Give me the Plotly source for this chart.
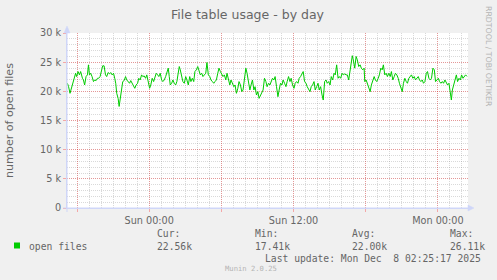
import plotly.graph_objects as go

# ---------------- data ----------------
sat_times = ["17:12", "17:18", "17:25", "17:32", "17:38", "17:45", "17:53", "17:58",
             "18:05", "18:12", "18:18", "18:27", "18:32", "18:38", "18:45", "18:52", "18:57",
             "19:02", "19:08", "19:15", "19:22", "19:28", "19:35", "19:42", "19:48", "19:55",
             "20:02", "20:08", "20:15", "20:22", "20:28", "20:35", "20:42", "20:48", "20:55",
             "21:02", "21:08", "21:13", "21:18", "21:25", "21:30", "21:35", "21:42", "21:48", "21:55",
             "22:02", "22:08", "22:15", "22:22", "22:28", "22:35", "22:42", "22:48", "22:55",
             "23:02", "23:08", "23:15", "23:22", "23:28", "23:35", "23:42", "23:48", "23:55"]
sat_values = [21380, 20800, 19660, 20520, 21090, 21670, 23100, 22530,
              23390, 22820, 23390, 22240, 21950, 21090, 22530, 22820, 24540,
              22820, 23100, 22530, 21670, 21950, 21840, 22240, 22240, 22530,
              23680, 24370, 24370, 22820, 22530, 23220, 22990, 23220, 22820,
              23100, 22240, 21380, 19660, 18790, 17410, 18510, 19940, 21670, 21840,
              22530, 21950, 21670, 21380, 21840, 21380, 21090, 20520, 21090,
              21380, 22240, 21950, 22820, 22530, 22640, 22240, 22820, 21380]

sun_times = ["00:02", "00:08", "00:15", "00:22", "00:28", "00:35", "00:42", "00:48", "00:55",
             "01:02", "01:08", "01:15", "01:22", "01:28", "01:35", "01:40", "01:45", "01:52", "01:58",
             "02:05", "02:12", "02:18", "02:25", "02:30", "02:35", "02:42", "02:48", "02:55",
             "03:02", "03:08", "03:15", "03:22", "03:28", "03:35", "03:42", "03:48", "03:55",
             "04:02", "04:08", "04:15", "04:22", "04:28", "04:35", "04:42", "04:48", "04:55",
             "05:02", "05:08", "05:15", "05:22", "05:28", "05:35", "05:42", "05:48", "05:55",
             "06:02", "06:08", "06:15", "06:22", "06:28", "06:35", "06:42", "06:48", "06:55",
             "07:02", "07:08", "07:15", "07:22", "07:28", "07:35", "07:42", "07:48", "07:55",
             "08:02", "08:08", "08:15", "08:22", "08:28", "08:35", "08:42", "08:48", "08:55",
             "09:02", "09:08", "09:15", "09:22", "09:28", "09:35", "09:42", "09:48", "09:55",
             "10:02", "10:08", "10:15", "10:22", "10:28", "10:35", "10:42", "10:48", "10:55",
             "11:02", "11:08", "11:15", "11:22", "11:28", "11:35", "11:42", "11:48", "11:55",
             "12:02", "12:08", "12:15", "12:22", "12:28", "12:35", "12:42", "12:48", "12:55",
             "13:02", "13:08", "13:15", "13:22", "13:28", "13:35", "13:42", "13:48", "13:55",
             "14:02", "14:08", "14:15", "14:22", "14:28", "14:35", "14:42", "14:48", "14:55",
             "15:02", "15:08", "15:15", "15:22", "15:28", "15:35", "15:42", "15:48", "15:55",
             "16:02", "16:08", "16:15", "16:22", "16:28", "16:35", "16:42", "16:48", "16:53", "16:58",
             "17:05", "17:12", "17:18", "17:25", "17:32", "17:38", "17:45", "17:52", "17:55",
             "18:02", "18:08", "18:15", "18:22", "18:28", "18:35", "18:42", "18:48", "18:55",
             "19:02", "19:08", "19:15", "19:22", "19:28", "19:35", "19:42", "19:48", "19:55",
             "20:02", "20:08", "20:15", "20:22", "20:28", "20:35", "20:42", "20:48", "20:55",
             "21:02", "21:08", "21:15", "21:22", "21:28", "21:35", "21:42", "21:48", "21:55",
             "22:02", "22:08", "22:15", "22:22", "22:28", "22:35", "22:42", "22:48", "22:55",
             "23:02", "23:08", "23:15", "23:22", "23:28", "23:35", "23:42", "23:48", "23:55"]
sun_values = [20520, 21090, 22240, 21670, 22530, 23100, 22820, 22530, 23100,
              21950, 21670, 21950, 22530, 23100, 23970, 22530, 21090, 21380, 21950,
              21380, 21090, 21670, 23100, 24250, 23680, 22240, 21670, 21380,
              22530, 21950, 21090, 22530, 21670, 22240, 21670, 23390, 23680,
              24250, 23390, 22820, 23100, 22530, 22820, 23100, 24940, 22820,
              22530, 21950, 21670, 21380, 21670, 21950, 23100, 23970, 23390,
              22820, 22530, 22820, 21950, 23100, 22240, 21090, 21950, 21380,
              20800, 21090, 19660, 20520, 21670, 21090, 19940, 20230, 22530,
              23970, 23100, 21380, 20230, 21090, 21950, 20230, 20800, 19370,
              19940, 18790, 19370, 19660, 20230, 22240, 21670, 20800, 21380,
              21090, 21670, 22240, 21950, 22530, 20800, 19080, 20230, 21380,
              21090, 21950, 21380, 20800, 21670, 22530, 21670, 22240, 21090,
              20520, 21380, 21670, 21380, 22240, 22530, 23100, 23390, 21670,
              21380, 20800, 20230, 19940, 20800, 21090, 21670, 20230, 20800,
              21380, 20230, 20800, 19370, 18510, 21670, 21950, 21380, 21670,
              21090, 22530, 21950, 23100, 22820, 24540, 22240, 22530, 22240,
              23100, 22820, 22990, 22820, 22820, 21950, 23680, 24830, 26110, 25400,
              23970, 25980, 25400, 24250, 24540, 23970, 23680, 23970, 21670,
              21950, 21380, 20800, 19940, 21090, 21950, 22530, 21950, 21670,
              22240, 22820, 23970, 23680, 24540, 22820, 23100, 22530, 23100,
              22530, 23390, 21950, 22530, 23100, 22820, 22240, 21380, 20800,
              19940, 21380, 22240, 21670, 21380, 22240, 22530, 22820, 22240,
              22530, 21950, 22240, 22530, 21950, 21670, 21950, 21380, 21670,
              23100, 23390, 22240, 21950, 22240, 23970, 23680, 21670, 21950]

mon_times = ["00:02", "00:08", "00:15", "00:22", "00:28", "00:35", "00:42", "00:48", "00:55",
             "01:02", "01:07", "01:12", "01:18", "01:25", "01:32", "01:38", "01:45", "01:52", "01:58",
             "02:05", "02:12", "02:18", "02:25"]
mon_values = [22240, 21670, 21380, 21670, 21380, 21950, 21380, 21090, 21380,
              19940, 18510, 20230, 21090, 21950, 22820, 21670, 22240, 21950, 22820,
              22240, 22530, 22820, 22560]

series_name = "open files"
title_text = "File table usage - by day"
y_title = "number of open files"

x_range = ["2025-12-06 17:10", "2025-12-08 02:30"]
x_tickvals = ["2025-12-06 18:00", "2025-12-07 00:00", "2025-12-07 06:00",
              "2025-12-07 12:00", "2025-12-07 18:00", "2025-12-08 00:00"]
x_ticktext = ["", "Sun 00:00", "", "Sun 12:00", "", "Mon 00:00"]

y_tickvals = [0, 5000, 10000, 15000, 20000, 25000, 30000]
y_ticktext = ["0", "5 k", "10 k", "15 k", "20 k", "25 k", "30 k"]

stat_labels = ["Cur:", "Min:", "Avg:", "Max:"]
stat_values = ["22.56k", "17.41k", "22.00k", "26.11k"]
last_update = "Last update: Mon Dec \u00a08 02:25:17 2025"
watermark = "Munin 2.0.25"
side_text = "RRDTOOL / TOBI OETIKER"

times = (["2025-12-06 " + t for t in sat_times]
         + ["2025-12-07 " + t for t in sun_times]
         + ["2025-12-08 " + t for t in mon_times])
open_files = sat_values + sun_values + mon_values

# ---------------- layout helpers ----------------
W, H = 497, 280
L, R, T, B = 67, 29, 33, 72
PW, PH = W - L - R, H - T - B


def px(x):
    return (x - L) / PW


def py(y):
    return (H - B - y) / PH


GREEN = "#00CC00"
FONT_C = "#666666"
AXIS_C = "#CFD6F8"
MAJOR = "rgba(255,0,0,0.30)"
MINOR = "rgba(130,130,130,0.30)"
SANS = "DejaVu Sans"
MONO = "DejaVu Sans Mono"

fig = go.Figure()
fig.add_trace(go.Scatter(x=times, y=open_files, mode="lines", name=series_name,
                         line=dict(color=GREEN, width=1), hoverinfo="skip"))

fig.update_layout(width=W, height=H, margin=dict(l=L, r=R, t=T, b=B, pad=0),
                  paper_bgcolor="#F0F0F0", plot_bgcolor="#FFFFFF", showlegend=False)

fig.update_xaxes(type="date", range=x_range, tickmode="array",
                 tickvals=x_tickvals, ticktext=x_ticktext,
                 showgrid=True, gridcolor=MAJOR, griddash="1px,1px", gridwidth=1,
                 ticks="outside", ticklen=3, tickcolor=MAJOR, tickwidth=1,
                 tickfont=dict(family=SANS, size=9.7, color=FONT_C),
                 showline=True, linecolor=AXIS_C, linewidth=1, zeroline=False,
                 minor=dict(tickmode="linear", tick0="2025-12-06 00:00", dtick=3600000,
                            showgrid=True, gridcolor=MINOR, griddash="1px,1px",
                            gridwidth=1, ticks=""))

fig.update_yaxes(range=[0, 30000], tickmode="array",
                 tickvals=y_tickvals, ticktext=y_ticktext,
                 showgrid=True, gridcolor=MAJOR, griddash="1px,1px", gridwidth=1,
                 ticks="outside", ticklen=3, tickcolor=MAJOR, tickwidth=1,
                 tickfont=dict(family=SANS, size=9.7, color=FONT_C),
                 showline=True, linecolor=AXIS_C, linewidth=1, zeroline=False,
                 minor=dict(tickmode="linear", tick0=0, dtick=1000,
                            showgrid=True, gridcolor=MINOR, griddash="1px,1px",
                            gridwidth=1, ticks=""))

shapes = [
    # axis extensions
    dict(type="line", xref="paper", yref="paper", x0=px(63), x1=px(468), y0=0, y1=0,
         line=dict(color=AXIS_C, width=1)),
    dict(type="line", xref="paper", yref="paper", x0=0, x1=0, y0=py(212), y1=py(31),
         line=dict(color=AXIS_C, width=1)),
    # arrows
    dict(type="path", xref="paper", yref="paper",
         path=f"M {px(468)},{py(205)} L {px(474)},{py(208)} L {px(468)},{py(211)} Z",
         fillcolor=AXIS_C, line=dict(color=AXIS_C, width=0.5)),
    dict(type="path", xref="paper", yref="paper",
         path=f"M {px(64)},{py(33)} L {px(67)},{py(26)} L {px(70)},{py(33)} Z",
         fillcolor=AXIS_C, line=dict(color=AXIS_C, width=0.5)),
    # legend swatch
    dict(type="rect", xref="paper", yref="paper", x0=px(14), x1=px(20), y0=py(248.5), y1=py(242.5),
         fillcolor=GREEN, line=dict(color=GREEN, width=0)),
]
fig.update_layout(shapes=shapes)


def ann(text, x, y, size, family=MONO, color=FONT_C, xanchor="left", angle=0):
    fig.add_annotation(text=text, x=px(x), y=py(y), xref="paper", yref="paper",
                       xanchor=xanchor, yanchor="middle", showarrow=False,
                       textangle=angle, font=dict(family=family, size=size, color=color))


ann(title_text, 248, 14, 12.5, family=SANS, xanchor="center")
ann(y_title, 9, 120, 11.1, family=SANS, xanchor="center", angle=-90)
ann(series_name, 26.5, 246, 9.7)
stat_x = [155, 252.7, 350, 447.7]
for lab, val, sx in zip(stat_labels, stat_values, stat_x):
    ann(lab, sx, 233.5, 9.7)
    ann(val, sx, 246, 9.7)
ann(last_update, 483, 258, 9.7, xanchor="right")
ann(watermark, 223, 268.5, 7.2, color="#B4B4B4")
ann(side_text, 488.5, 56.5, 7.8, family=SANS, color="#B4B4B4", xanchor="center", angle=90)

fig.write_html("out.html")
